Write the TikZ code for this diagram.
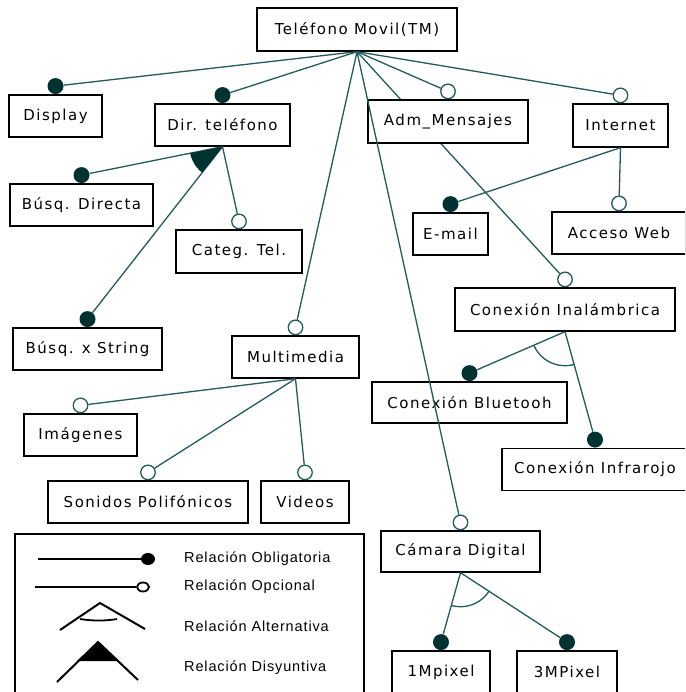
\documentclass[tikz,border=0pt]{standalone}
\usepackage{fontspec}
\newfontfamily\boxfont[LetterSpace=10]{DejaVu Sans}
\newfontfamily\legfont[LetterSpace=6]{Liberation Sans}
\pgfdeclarelayer{bg}
\pgfsetlayers{bg,main}
\definecolor{ln}{RGB}{35,90,90}
\definecolor{dot}{RGB}{0,50,50}
\tikzset{
  feat/.style={draw=black, line width=1.4pt, fill=white, inner sep=0pt,
    font=\boxfont\fontsize{15}{18}\selectfont},
  conn/.style={draw=ln, line width=1.3pt},
  mand/.style={circle, fill=dot, inner sep=0pt, minimum size=16pt, anchor=south},
  opt/.style={circle, draw=ln, fill=white, line width=1.3pt, inner sep=0pt, minimum size=14.5pt, anchor=south},
  leg/.style={anchor=west, inner sep=0pt, font=\legfont\fontsize{14.5}{17}\selectfont},
  legline/.style={draw=black, line width=1.1pt},
  legchev/.style={draw=black, line width=2pt},
}
\begin{document}
\begin{tikzpicture}[x=1pt,y=-1pt]
\useasboundingbox (0,0) rectangle (685,692);
\clip (0,0) rectangle (685,692);
% feature boxes
\node[feat, minimum width=200pt, minimum height=43pt] (tm) at (357,29.5) {Teléfono Movil(TM)};
\node[feat, minimum width=93pt, minimum height=42pt] (display) at (55.5,116) {Display};
\node[feat, minimum width=135pt, minimum height=42pt] (dir) at (222.5,125) {Dir. teléfono};
\node[feat, minimum width=143pt, minimum height=42pt] (busqd) at (81.5,205) {Búsq. Directa};
\node[feat, minimum width=126pt, minimum height=43pt] (categ) at (239,251.5) {Categ. Tel.};
\node[feat, minimum width=149pt, minimum height=42pt] (busqs) at (87.5,349) {Búsq. x String};
\node[feat, minimum width=127pt, minimum height=42pt] (multi) at (295.5,357) {Multimedia};
\node[feat, minimum width=113pt, minimum height=42pt] (imag) at (80.5,435) {Imágenes};
\node[feat, minimum width=200pt, minimum height=42pt] (sonidos) at (148,502) {Sonidos Polifónicos};
\node[feat, minimum width=88pt, minimum height=42pt] (videos) at (305,502) {Videos};
\node[feat, minimum width=160pt, minimum height=43pt] (adm) at (448,121.5) {Adm\_Mensajes};
\node[feat, minimum width=95pt, minimum height=43pt] (internet) at (620.5,125.5) {Internet};
\node[feat, minimum width=75pt, minimum height=42pt] (email) at (450.5,234) {E-mail};
\node[feat, minimum width=134pt, minimum height=42pt] (acceso) at (619,233) {Acceso Web};
\node[feat, minimum width=220pt, minimum height=43pt] (inal) at (565,309.5) {Conexión Inalámbrica};
\node[feat, minimum width=195pt, minimum height=41pt] (blue) at (469.5,402.5) {Conexión Bluetooh};
\node[feat, minimum width=186pt, minimum height=42pt] (infra) at (595,469.5) {Conexión Infrarojo};
\node[feat, minimum width=159pt, minimum height=41pt] (camara) at (460.5,551.5) {Cámara Digital};
\node[feat, minimum width=98pt, minimum height=42pt] (mp1) at (441,672) {1Mpixel};
\node[feat, minimum width=100pt, minimum height=42pt] (mp3) at (567,672) {3MPixel};
% connector ends
\node[mand] (c-display) at (display.north) {};
\node[mand] (c-dir) at (dir.north) {};
\node[mand] (c-busqd) at (busqd.north) {};
\node[opt] (c-categ) at (categ.north) {};
\node[mand] (c-busqs) at (busqs.north) {};
\node[opt] (c-multi) at (multi.north) {};
\node[opt] (c-imag) at (imag.north) {};
\node[opt] (c-sonidos) at (sonidos.north) {};
\node[opt] (c-videos) at (videos.north) {};
\node[opt] (c-adm) at (adm.north) {};
\node[opt] (c-internet) at (internet.north) {};
\node[mand] (c-email) at (email.north) {};
\node[opt] (c-acceso) at (acceso.north) {};
\node[opt] (c-inal) at (inal.north) {};
\node[mand] (c-blue) at (blue.north) {};
\node[mand] (c-infra) at (infra.north) {};
\node[opt] (c-camara) at (camara.north) {};
\node[mand] (c-mp1) at (mp1.north) {};
\node[mand] (c-mp3) at (mp3.north) {};
% connector hidden behind Adm_Mensajes
\begin{pgfonlayer}{bg}
\draw[conn] (tm.south) -- (c-inal);
\end{pgfonlayer}
% connectors
\draw[conn] (tm.south) -- (c-display);
\draw[conn] (tm.south) -- (c-dir);
\draw[conn] (tm.south) -- (c-multi);
\draw[conn] (tm.south) -- (c-adm);
\draw[conn] (tm.south) -- (c-internet);
\draw[conn] (tm.south) -- (c-camara);
\draw[conn] (dir.south) -- (c-busqd);
\draw[conn] (dir.south) -- (c-busqs);
\draw[conn] (dir.south) -- (c-categ);
\draw[conn] (multi.south) -- (c-imag);
\draw[conn] (multi.south) -- (c-sonidos);
\draw[conn] (multi.south) -- (c-videos);
\draw[conn] (internet.south) -- (c-email);
\draw[conn] (internet.south) -- (c-acceso);
\draw[conn] (inal.south) -- (c-blue);
\draw[conn] (inal.south) -- (c-infra);
\draw[conn] (camara.south) -- (c-mp1);
\draw[conn] (camara.south) -- (c-mp3);
% disjunctive wedge
\begin{scope}
\clip (dir.south) -- (c-busqd.center) -- (c-busqs.center) -- cycle;
\fill[dot] (dir.south) circle (33pt);
\end{scope}
% alternative arcs
\begin{scope}
\clip (inal.south) -- (c-blue.center) -- (c-infra.center) -- cycle;
\draw[conn] (inal.south) circle (34pt);
\end{scope}
\begin{scope}
\clip (camara.south) -- (c-mp1.center) -- (c-mp3.center) -- cycle;
\draw[conn] (camara.south) circle (34pt);
\end{scope}
% legend
\draw[draw=black, line width=2.2pt] (15,534) rectangle (364,700);
\draw[legline] (38,559) -- (148,559);
\fill[black] (148,559) ellipse (7pt and 6pt);
\draw[legline] (35,587) -- (136,587);
\draw[black, line width=1.8pt, fill=white] (143,587) ellipse (6pt and 4.5pt);
\draw[legchev] (60,630) -- (100,603) -- (145,629);
\draw[black, line width=1.8pt] (80,619) .. controls (92,621) and (106,621) .. (117,619);
\draw[legchev] (57,682) -- (98,642) -- (138,680);
\fill[black] (98,642) -- (77,661) -- (119,661) -- cycle;
\node[leg] (l-oblig) at (184,559) {Relación Obligatoria};
\node[leg] (l-opc) at (184,587) {Relación Opcional};
\node[leg] (l-alt) at (184,626) {Relación Alternativa};
\node[leg] (l-dis) at (184,668) {Relación Disyuntiva};
\end{tikzpicture}
\end{document}
